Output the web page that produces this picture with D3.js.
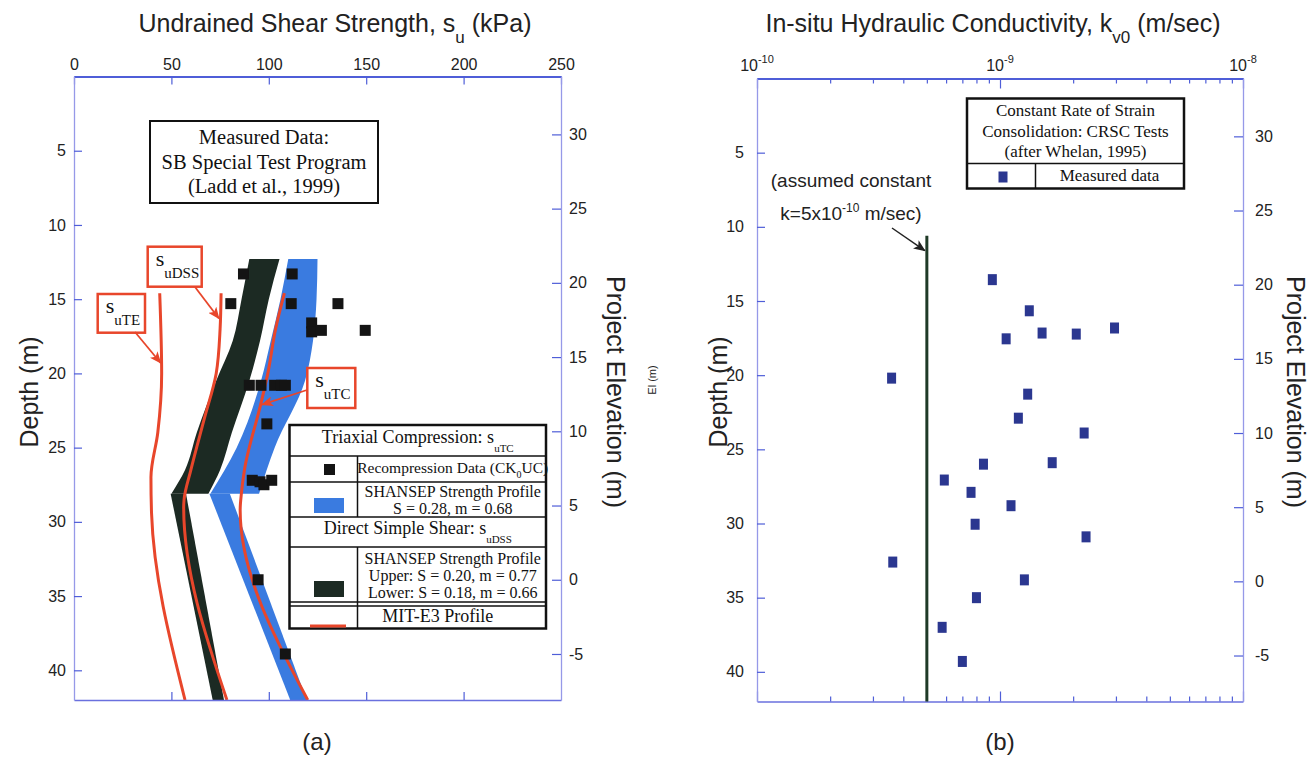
<!DOCTYPE html>
<html>
<head>
<meta charset="utf-8">
<script src="https://cdn.jsdelivr.net/npm/d3@7"></script>
<style>
  body { margin: 0; background: #fff; }
</style>
</head>
<body>
<div id="chart"></div>
<script>
// ---------- (a) undrained shear strength ----------
const suTicks = [0, 50, 100, 150, 200, 250]
const depthTicks = [5, 10, 15, 20, 25, 30, 35, 40]
const elevTicks = [-5, 0, 5, 10, 15, 20, 25, 30]
const topElevation = 33.9 // project elevation at depth 0

// recompression data (CK0UC): [su kPa, depth m]
const ckucData = [
  [87, 13.3], [112, 13.3], [80.5, 15.3], [111.5, 15.3], [135.5, 15.3],
  [122, 16.6], [122, 17.2], [127, 17.1], [149.5, 17.1],
  [90, 20.8], [96, 20.8], [103, 20.8], [106.5, 20.8], [108.5, 20.8],
  [99, 23.4], [91.5, 27.2], [95.5, 27.3], [97.5, 27.5], [101.5, 27.2],
  [94.5, 33.9], [108.5, 38.9],
]

// SHANSEP bands: [depth, lower su, upper su]
const dssBandTop = [[12.3, 90, 105.5], [15, 86, 100], [17.8, 81.5, 95.5], [20.5, 73, 90], [24, 63, 81], [26.5, 57, 75], [28.1, 50, 69]]
const dssBandBottom = [[28.1, 49.6, 57.5], [42, 71.2, 77]]
const tcBandTop = [[12.3, 110, 125], [15, 106, 124.5], [17.8, 101, 122.7], [20.5, 96, 118.6], [25, 83.5, 103], [28.1, 70, 95]]
const tcBandBottom = [[28.1, 69.5, 80], [42, 111, 119.5]]

// MIT-E3 profiles: [depth, su]
const mitTE = [[14.6, 44], [20, 45], [24, 43], [27, 39.5], [29.4, 39.8], [42, 57]]
const mitDSS = [[14.6, 75.5], [17, 75], [20, 73], [23, 67], [26.5, 60], [28.5, 56.5], [29, 56.3], [42, 78.5]]
const mitTC = [[14.6, 108], [17, 103.5], [20, 99.5], [22, 96], [26.5, 87.5], [28, 86], [29.2, 85.3], [42, 120]]

// ---------- (b) hydraulic conductivity ----------
const kExponents = [-10, -9, -8]
const kConstant = 5e-10
const kConstantTop = 10.6 // depth where the assumed line starts
// CRSC measured data: [k m/sec, depth m]
const crscData = [
  [0.93e-9, 13.56], [3.58e-10, 20.2], [1.32e-9, 15.66], [1.06e-9, 17.55], [1.49e-9, 17.16],
  [2.06e-9, 17.23], [2.96e-9, 16.82], [1.30e-9, 21.28], [1.19e-9, 22.9], [2.22e-9, 23.9],
  [0.855e-9, 26.0], [1.64e-9, 25.9], [0.59e-9, 27.07], [0.76e-9, 27.9], [1.11e-9, 28.8],
  [0.79e-9, 30.05], [2.26e-9, 30.9], [3.62e-10, 32.6], [1.26e-9, 33.8], [0.80e-9, 35.0],
  [0.578e-9, 37.0], [0.70e-9, 39.3],
]

const W = 1310
const H = 760
const sans = "'Liberation Sans', Arial, sans-serif"
const serif = "'Liberation Serif', 'Times New Roman', serif"
const axisBlue = '#4f5ed8'
const frameBlue = '#9699e8'
const red = '#e8462b'
const blue = '#3a7be0'
const dark = '#1c2a23'
const navy = '#2b3790'
const plain = (d) => String(d) // keep a hyphen minus like the source

const svg = d3
  .select('#chart')
  .append('svg')
  .attr('width', W)
  .attr('height', H)
  .attr('viewBox', [0, 0, W, H])
  .style('font-family', sans)

const defs = svg.append('defs')
function arrowMarker(id, color) {
  defs
    .append('marker')
    .attr('id', id)
    .attr('viewBox', '0 0 12 10')
    .attr('refX', 11)
    .attr('refY', 5)
    .attr('markerWidth', 12)
    .attr('markerHeight', 10)
    .attr('markerUnits', 'userSpaceOnUse')
    .attr('orient', 'auto')
    .append('path')
    .attr('d', 'M0,0 L12,5 L0,10 L3,5 Z')
    .attr('fill', color)
}
arrowMarker('arrowRed', red)
arrowMarker('arrowDark', '#222')

// style helper for axis groups
function styleAxis(g, color, width) {
  g.select('.domain').attr('stroke', color).attr('stroke-width', width)
  g.selectAll('.tick line').attr('stroke', axisBlue).attr('stroke-width', 1.2)
  g.selectAll('.tick text').attr('fill', '#222').attr('font-size', 16).attr('font-family', sans)
}

// subscript/superscript text helper
function richText(g, x, y, parts, opts = {}) {
  const t = g
    .append('text')
    .attr('x', x)
    .attr('y', y)
    .attr('text-anchor', opts.anchor || 'middle')
    .attr('font-family', opts.family || sans)
    .attr('font-size', opts.size || 16)
    .attr('fill', opts.fill || '#222')
  if (opts.transform) t.attr('transform', opts.transform)
  let shift = 0
  parts.forEach((p) => {
    const span = t.append('tspan').text(p.text)
    const dy = (p.dy || 0) - shift
    if (dy) span.attr('dy', dy)
    shift = p.dy || 0
    if (p.size) span.attr('font-size', p.size)
  })
  return t
}

// ===================== (a) =====================
const xA = d3.scaleLinear().domain([0, 250]).range([74, 561])
const yA = d3.scaleLinear().domain([0, 42]).range([76.5, 700])
const eA = d3.scaleLinear().domain([topElevation, topElevation - 42]).range([76.5, 700])

const gA = svg.append('g')

// bands
const band = d3
  .area()
  .y((d) => yA(d[0]))
  .x0((d) => xA(d[1]))
  .x1((d) => xA(d[2]))
  .curve(d3.curveMonotoneY)

gA.append('path').datum(tcBandTop).attr('d', band).attr('fill', blue)
gA.append('path').datum(tcBandBottom).attr('d', band).attr('fill', blue)
gA.append('path').datum(dssBandTop).attr('d', band).attr('fill', dark)
gA.append('path').datum(dssBandBottom).attr('d', band).attr('fill', dark)

// MIT-E3 lines
const profile = d3
  .line()
  .x((d) => xA(d[1]))
  .y((d) => yA(d[0]))
  .curve(d3.curveMonotoneY)

;[mitTE, mitDSS, mitTC].forEach((p) => {
  gA.append('path')
    .datum(p)
    .attr('d', profile)
    .attr('fill', 'none')
    .attr('stroke', red)
    .attr('stroke-width', 3)
})

// measured points
gA.selectAll('rect.ckuc')
  .data(ckucData)
  .join('rect')
  .attr('class', 'ckuc')
  .attr('x', (d) => xA(d[0]) - 5.5)
  .attr('y', (d) => yA(d[1]) - 5.5)
  .attr('width', 11)
  .attr('height', 11)
  .attr('fill', '#141414')

// axes
const topAxisA = gA.append('g').attr('transform', `translate(0,${yA(0)})`)
  .call(d3.axisTop(xA).tickValues(suTicks).tickSize(-8).tickSizeOuter(0).tickPadding(7).tickFormat(plain))
styleAxis(topAxisA, axisBlue, 2.2)

const botAxisA = gA.append('g').attr('transform', `translate(0,${yA(42)})`)
  .call(d3.axisBottom(xA).tickValues(suTicks.slice(1, -1)).tickSize(-8).tickSizeOuter(0).tickFormat(''))
styleAxis(botAxisA, '#6a70de', 1.6)

const leftAxisA = gA.append('g').attr('transform', `translate(${xA(0)},0)`)
  .call(d3.axisLeft(yA).tickValues(depthTicks).tickSize(-8).tickSizeOuter(0).tickPadding(8).tickFormat(plain))
styleAxis(leftAxisA, frameBlue, 1.3)

const rightAxisA = gA.append('g').attr('transform', `translate(${xA(250)},0)`)
  .call(d3.axisRight(eA).tickValues(elevTicks).tickSize(-9).tickSizeOuter(0).tickPadding(8).tickFormat(plain))
styleAxis(rightAxisA, frameBlue, 1.3)

// titles
richText(gA, 335, 32, [
  { text: 'Undrained Shear Strength, s' },
  { text: 'u', dy: 11, size: 17 },
  { text: ' (kPa)' },
], { size: 25 })

richText(gA, 0, 0, [{ text: 'Depth (m)' }], { size: 25, transform: 'translate(38,392) rotate(-90)' })
richText(gA, 0, 0, [{ text: 'Project Elevation (m)' }], { size: 25, transform: 'translate(607,392) rotate(90)' })
richText(gA, 0, 0, [{ text: 'El (m)' }], { size: 11, transform: 'translate(656,380) rotate(-90)' })
richText(gA, 317, 750, [{ text: '(a)' }], { size: 24 })

// measured data box
gA.append('rect').attr('x', 150).attr('y', 121).attr('width', 228).attr('height', 82)
  .attr('fill', '#fff').attr('stroke', '#111').attr('stroke-width', 2)
;['Measured Data:', 'SB Special Test Program', '(Ladd et al., 1999)'].forEach((s, i) => {
  richText(gA, 264, 144 + i * 24.5, [{ text: s }], { family: serif, size: 20.5, fill: '#111' })
})

// red label boxes with arrows
function labelBox(x, y, w, h, sub, target) {
  gA.append('rect').attr('x', x).attr('y', y).attr('width', w).attr('height', h)
    .attr('fill', '#fff').attr('stroke', red).attr('stroke-width', 2.5)
  richText(gA, x + 8, y + 19, [{ text: 's' }, { text: sub, dy: 12, size: 15 }], {
    anchor: 'start', family: serif, size: 22, fill: '#111',
  })
  gA.append('line')
    .attr('x1', target.from[0]).attr('y1', target.from[1])
    .attr('x2', target.to[0]).attr('y2', target.to[1])
    .attr('stroke', red).attr('stroke-width', 1.8)
    .attr('marker-end', 'url(#arrowRed)')
}
labelBox(147.7, 246.7, 54, 40, 'uDSS', { from: [195, 287], to: [xA(74.4), yA(16.3)] })
labelBox(97.7, 294, 47.3, 38.7, 'uTE', { from: [135, 332], to: [xA(44.5), yA(19.3)] })
labelBox(307.3, 368, 48, 40, 'uTC', { from: [307, 390], to: [xA(96.5), yA(22.1)] })

// legend table
const lg = gA.append('g')
const lx0 = 289.5
const lx1 = 546
const lxm = 357.5
const lineRow = (y, w = 1.5) =>
  lg.append('line').attr('x1', lx0).attr('x2', lx1).attr('y1', y).attr('y2', y).attr('stroke', '#111').attr('stroke-width', w)
lg.append('rect').attr('x', lx0).attr('y', 425).attr('width', lx1 - lx0).attr('height', 203.5)
  .attr('fill', '#fff').attr('stroke', '#111').attr('stroke-width', 2.5)
lineRow(456)
lineRow(482)
lineRow(517)
lineRow(547)
lineRow(602, 1.6)
lineRow(606, 1.6)
;[[456, 517], [547, 628.5]].forEach(([a, b]) => {
  lg.append('line').attr('x1', lxm).attr('x2', lxm).attr('y1', a).attr('y2', b).attr('stroke', '#111').attr('stroke-width', 1.5)
})
const lgc = (lx0 + lx1) / 2
const rc = (lxm + lx1) / 2 + 1
const lopt = { family: serif, size: 16, fill: '#111' }
richText(lg, lgc, 443, [{ text: 'Triaxial Compression: s' }, { text: 'uTC', dy: 9, size: 11 }], { ...lopt, size: 18 })
richText(lg, rc, 473, [{ text: 'Recompression Data (CK' }, { text: '0', dy: 5, size: 10 }, { text: 'UC)' }], { ...lopt, size: 15.5 })
richText(lg, rc, 497, [{ text: 'SHANSEP Strength Profile' }], lopt)
richText(lg, rc, 513.5, [{ text: 'S = 0.28, m = 0.68' }], lopt)
richText(lg, lgc, 534, [{ text: 'Direct Simple Shear: s' }, { text: 'uDSS', dy: 9, size: 11 }], { ...lopt, size: 18 })
richText(lg, rc, 564, [{ text: 'SHANSEP Strength Profile' }], lopt)
richText(lg, rc, 581, [{ text: 'Upper:  S = 0.20, m = 0.77' }], lopt)
richText(lg, rc, 598, [{ text: 'Lower:  S = 0.18, m = 0.66' }], lopt)
richText(lg, lgc + 20, 622, [{ text: 'MIT-E3 Profile' }], { ...lopt, size: 18 })
lg.append('rect').attr('x', 324).attr('y', 464).attr('width', 11).attr('height', 11).attr('fill', '#141414')
lg.append('rect').attr('x', 314).attr('y', 498).attr('width', 30).attr('height', 15).attr('fill', blue)
lg.append('rect').attr('x', 314).attr('y', 581).attr('width', 30).attr('height', 16).attr('fill', dark)
lg.append('line').attr('x1', 310).attr('x2', 346).attr('y1', 626).attr('y2', 626).attr('stroke', red).attr('stroke-width', 3)

// ===================== (b) =====================
const xB = d3.scaleLog().domain([1e-10, 1e-8]).range([757, 1243])
const yB = d3.scaleLinear().domain([0, 42]).range([78.5, 701.5])
const eB = d3.scaleLinear().domain([topElevation, topElevation - 42]).range([78.5, 701.5])

const gB = svg.append('g')
const isMajor = (v) => Math.abs(Math.log10(v) - Math.round(Math.log10(v))) < 1e-6

const topAxisB = gB.append('g').attr('transform', `translate(0,${yB(0)})`)
  .call(d3.axisTop(xB).tickValues(xB.ticks()).tickSize(-5).tickSizeOuter(0).tickFormat(''))
styleAxis(topAxisB, axisBlue, 2.2)
topAxisB.selectAll('.tick line').attr('y2', (d) => (isMajor(d) ? 10 : 5))

const botAxisB = gB.append('g').attr('transform', `translate(0,${yB(42)})`)
  .call(d3.axisBottom(xB).tickValues(xB.ticks()).tickSize(-5).tickSizeOuter(0).tickFormat(''))
styleAxis(botAxisB, '#6a70de', 1.6)
botAxisB.selectAll('.tick line').attr('y2', (d) => (isMajor(d) ? -10 : -5))

const leftAxisB = gB.append('g').attr('transform', `translate(${xB(1e-10)},0)`)
  .call(d3.axisLeft(yB).tickValues(depthTicks).tickSize(-8).tickSizeOuter(0).tickPadding(13).tickFormat(plain))
styleAxis(leftAxisB, frameBlue, 1.3)

const rightAxisB = gB.append('g').attr('transform', `translate(${xB(1e-8)},0)`)
  .call(d3.axisRight(eB).tickValues(elevTicks).tickSize(-9).tickSizeOuter(0).tickPadding(12).tickFormat(plain))
styleAxis(rightAxisB, frameBlue, 1.3)

kExponents.forEach((e) => {
  richText(gB, xB(Math.pow(10, e)), 71, [{ text: '10' }, { text: String(e), dy: -8, size: 11 }], { size: 16 })
})

richText(gB, 993, 32, [
  { text: 'In-situ Hydraulic Conductivity, k' },
  { text: 'v0', dy: 11, size: 17 },
  { text: ' (m/sec)' },
], { size: 25 })
richText(gB, 0, 0, [{ text: 'Depth (m)' }], { size: 25, transform: 'translate(727,392) rotate(-90)' })
richText(gB, 0, 0, [{ text: 'Project Elevation (m)' }], { size: 25, transform: 'translate(1287,392) rotate(90)' })
richText(gB, 1000, 750, [{ text: '(b)' }], { size: 24 })

// assumed constant k line
gB.append('line')
  .attr('x1', xB(kConstant)).attr('x2', xB(kConstant))
  .attr('y1', yB(kConstantTop)).attr('y2', yB(42))
  .attr('stroke', '#1f3a27').attr('stroke-width', 3)

richText(gB, 851, 187, [{ text: '(assumed constant' }], { size: 19 })
richText(gB, 851, 220, [
  { text: 'k=5x10' },
  { text: '-10', dy: -8, size: 12 },
  { text: ' m/sec)' },
], { size: 19 })
gB.append('line')
  .attr('x1', 892).attr('y1', 228)
  .attr('x2', xB(kConstant) - 2).attr('y2', yB(11.6))
  .attr('stroke', '#222').attr('stroke-width', 1.5)
  .attr('marker-end', 'url(#arrowDark)')

// measured points
gB.selectAll('rect.crsc')
  .data(crscData)
  .join('rect')
  .attr('class', 'crsc')
  .attr('x', (d) => xB(d[0]) - 4.5)
  .attr('y', (d) => yB(d[1]) - 5.5)
  .attr('width', 9)
  .attr('height', 11)
  .attr('fill', navy)

// legend box (b)
const lb = gB.append('g')
lb.append('rect').attr('x', 967).attr('y', 98.5).attr('width', 217).attr('height', 90)
  .attr('fill', '#fff').attr('stroke', '#111').attr('stroke-width', 2.5)
lb.append('line').attr('x1', 967).attr('x2', 1184).attr('y1', 163.5).attr('y2', 163.5).attr('stroke', '#111').attr('stroke-width', 1.5)
lb.append('line').attr('x1', 1035.5).attr('x2', 1035.5).attr('y1', 163.5).attr('y2', 188.5).attr('stroke', '#111').attr('stroke-width', 1.5)
;['Constant Rate of Strain', 'Consolidation: CRSC Tests', '(after Whelan, 1995)'].forEach((s, i) => {
  richText(lb, 1075.5, 116 + i * 20.5, [{ text: s }], { family: serif, size: 17, fill: '#111' })
})
richText(lb, 1109.5, 181, [{ text: 'Measured data' }], { family: serif, size: 17, fill: '#111' })
lb.append('rect').attr('x', 998.5).attr('y', 171.5).attr('width', 9).attr('height', 11).attr('fill', navy)
</script>
</body>
</html>
